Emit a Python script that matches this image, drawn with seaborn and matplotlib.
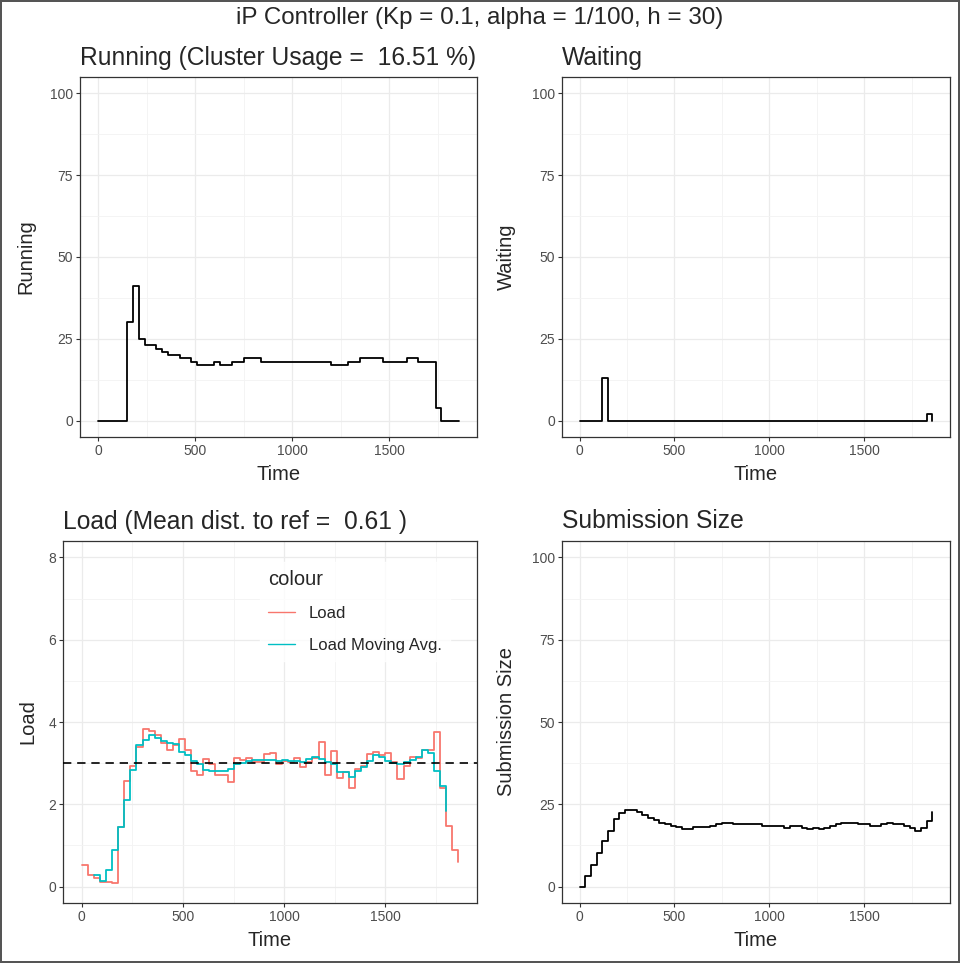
import numpy as np
import pandas as pd
import matplotlib
matplotlib.use("Agg")
import matplotlib.pyplot as plt
import seaborn as sns
from matplotlib.ticker import MultipleLocator

# time grid of the controller (h = 30)
time = [0, 30, 60, 90, 120, 150, 180, 210, 240, 270, 300, 330, 360, 390, 420,
        450, 480, 510, 540, 570, 600, 630, 660, 690, 720, 750, 780, 810, 840,
        870, 900, 930, 960, 990, 1020, 1050, 1080, 1110, 1140, 1170, 1200,
        1230, 1260, 1290, 1320, 1350, 1380, 1410, 1440, 1470, 1500, 1530,
        1560, 1590, 1620, 1650, 1680, 1710, 1740, 1770, 1800, 1830, 1860]

running = [0, 0, 0, 0, 0, 30, 41, 25, 23, 23, 22, 21, 20, 20, 19, 19, 18, 17,
           17, 17, 18, 17, 17, 18, 18, 19, 19, 19, 18, 18, 18, 18, 18, 18, 18,
           18, 18, 18, 18, 18, 17, 17, 17, 18, 18, 19, 19, 19, 19, 18, 18, 18,
           18, 19, 19, 18, 18, 18, 4, 0, 0, 0, 0]

waiting = [0, 0, 0, 0, 13, 0, 0, 0, 0, 0, 0, 0, 0, 0, 0, 0, 0, 0, 0, 0, 0, 0,
           0, 0, 0, 0, 0, 0, 0, 0, 0, 0, 0, 0, 0, 0, 0, 0, 0, 0, 0, 0, 0, 0, 0,
           0, 0, 0, 0, 0, 0, 0, 0, 0, 0, 0, 0, 0, 0, 0, 0, 2, 0]

load = [0.53, 0.28, 0.21, 0.12, 0.12, 0.08, 1.45, 2.57, 2.92, 3.39, 3.82,
        3.78, 3.68, 3.49, 3.31, 3.45, 3.59, 3.31, 2.82, 2.70, 3.10, 2.98,
        2.70, 2.70, 2.55, 3.13, 3.08, 3.13, 3.02, 3.02, 3.23, 3.25, 2.97,
        3.06, 3.02, 3.13, 2.90, 3.02, 3.13, 3.51, 2.72, 3.29, 2.65, 2.78,
        2.39, 2.86, 2.94, 3.23, 3.27, 3.19, 3.25, 3.02, 2.61, 2.94, 3.16,
        3.13, 3.31, 3.33, 3.76, 2.39, 1.47, 0.90, 0.60]

avg_time = time[2:61]
load_avg = [0.27, 0.13, 0.41, 0.88, 1.45, 2.10, 2.83, 3.43, 3.57, 3.68, 3.62,
            3.54, 3.49, 3.46, 3.27, 3.19, 3.06, 2.98, 2.84, 2.82, 2.80, 2.80,
            2.86, 2.97, 3.00, 3.05, 3.08, 3.08, 3.08, 3.08, 3.06, 3.08, 3.06,
            3.04, 3.02, 3.10, 3.14, 3.10, 3.02, 2.98, 2.78, 2.78, 2.67, 2.82,
            2.90, 3.06, 3.19, 3.15, 3.06, 3.00, 2.98, 3.02, 3.08, 3.16, 3.33,
            3.24, 2.82, 2.45, 1.84]

submission = [0, 3.2, 6.5, 10.1, 13.7, 16.9, 20.6, 22.5, 23.4, 23.4, 22.8,
              21.7, 20.7, 20.1, 19.4, 18.9, 18.5, 18.1, 17.5, 17.5, 18.1, 18.1,
              18.1, 18.5, 19.0, 19.3, 19.3, 19.0, 19.0, 19.0, 19.0, 19.0, 18.4,
              18.4, 18.4, 18.4, 17.9, 18.4, 18.4, 17.9, 17.4, 17.9, 17.4, 17.9,
              18.4, 18.9, 19.3, 19.3, 19.3, 18.9, 18.9, 18.4, 18.4, 18.9, 19.3,
              18.9, 18.9, 18.4, 17.9, 16.9, 17.9, 19.8, 22.6]

load_ref = 3
suptitle = "iP Controller (Kp = 0.1, alpha = 1/100, h = 30)"
titles = ["Running (Cluster Usage =  16.51 %)", "Waiting",
          "Load (Mean dist. to ref =  0.61 )", "Submission Size"]

sns.set_theme(style="whitegrid", rc={
    "axes.edgecolor": "#333333",
    "axes.linewidth": 0.9,
    "grid.color": "#EBEBEB",
    "grid.linewidth": 0.9,
    "xtick.bottom": True,
    "ytick.left": True,
    "xtick.color": "#333333",
    "ytick.color": "#333333",
    "xtick.labelcolor": "#4D4D4D",
    "ytick.labelcolor": "#4D4D4D",
    "xtick.major.size": 3,
    "ytick.major.size": 3,
    "xtick.major.width": 0.8,
    "ytick.major.width": 0.8,
})
plt.rcParams["font.family"] = ["Liberation Sans", "DejaVu Sans"]

W, H = 960, 963
fig = plt.figure(figsize=(W / 100, H / 100), dpi=100)
fig.patch.set_edgecolor("#555555")
fig.patch.set_linewidth(1.5)


def px_axes(x0, y0, x1, y1):
    return fig.add_axes([x0 / W, 1 - y1 / H, (x1 - x0) / W, (y1 - y0) / H])


ax_run = px_axes(80, 77, 477, 437)
ax_wait = px_axes(562, 77, 950, 437)
ax_load = px_axes(63, 541, 477, 903)
ax_sub = px_axes(562, 541, 950, 903)

df_run = pd.DataFrame({"Time": time, "Running": running})
df_wait = pd.DataFrame({"Time": time, "Waiting": waiting})
df_sub = pd.DataFrame({"Time": time, "Submission Size": submission})
df_load = pd.concat([
    pd.DataFrame({"Time": time, "Load": load, "colour": "Load"}),
    pd.DataFrame({"Time": avg_time, "Load": load_avg,
                  "colour": "Load Moving Avg."}),
])

step_kw = dict(drawstyle="steps-post", linewidth=1.3, estimator=None)

sns.lineplot(data=df_run, x="Time", y="Running", color="black", ax=ax_run, **step_kw)
sns.lineplot(data=df_wait, x="Time", y="Waiting", color="black", ax=ax_wait, **step_kw)
sns.lineplot(data=df_sub, x="Time", y="Submission Size", color="black", ax=ax_sub, **step_kw)
sns.lineplot(data=df_load, x="Time", y="Load", hue="colour",
             palette={"Load": "#F8766D", "Load Moving Avg.": "#00BFC4"},
             ax=ax_load, **step_kw)
ax_load.axhline(load_ref, color="black", linewidth=1.2, linestyle=(0, (5, 3.5)),
                zorder=3)

for ax, title in zip([ax_run, ax_wait, ax_load, ax_sub], titles):
    ax.set_xlim(-93, 1953)
    ax.xaxis.set_major_locator(MultipleLocator(500))
    ax.xaxis.set_minor_locator(MultipleLocator(250))
    ax.grid(True, which="major", color="#EBEBEB", linewidth=0.9)
    ax.grid(True, which="minor", color="#F3F3F3", linewidth=0.6)
    ax.tick_params(which="minor", length=0)
    ax.tick_params(which="major", labelsize=10, pad=2)
    ax.set_title(title, loc="left", fontsize=17.7, pad=9)
    ax.set_xlabel("Time", fontsize=14.5, labelpad=5)
    ax.yaxis.label.set_size(14.5)
    for s in ax.spines.values():
        s.set_color("#333333")

for ax in [ax_run, ax_wait, ax_sub]:
    ax.set_ylim(-5, 105)
    ax.yaxis.set_major_locator(MultipleLocator(25))
    ax.yaxis.set_minor_locator(MultipleLocator(12.5))

ax_load.set_ylim(-0.4, 8.4)
ax_load.yaxis.set_major_locator(MultipleLocator(2))
ax_load.yaxis.set_minor_locator(MultipleLocator(1))

ax_run.yaxis.set_label_coords((35 - 80) / 397, 0.5)
ax_wait.yaxis.set_label_coords((516 - 562) / 388, 0.5)
ax_sub.yaxis.set_label_coords((516 - 562) / 388, 0.5)
ax_load.yaxis.set_label_coords((37 - 63) / 414, 0.5)

leg = ax_load.legend(title="colour", loc="upper left", bbox_to_anchor=(0.455, 0.965),
                     frameon=True, fontsize=12, title_fontsize=14.5,
                     handlelength=1.6, handletextpad=0.85, labelspacing=1.0,
                     borderpad=0.5)
leg.get_frame().set_facecolor("white")
leg.get_frame().set_edgecolor("white")
leg._legend_box.align = "left"
for line in leg.get_lines():
    line.set_linewidth(1.0)

fig.text(0.5, 1 - 18 / H, suptitle, ha="center", va="center", fontsize=17.4)

fig.savefig("out.png", dpi=100, facecolor="white", edgecolor=fig.get_edgecolor())
